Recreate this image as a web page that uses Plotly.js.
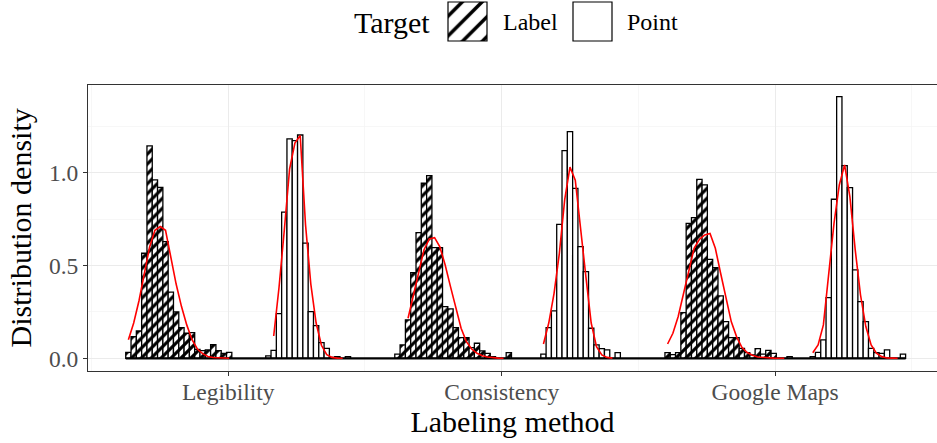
<!DOCTYPE html>
<html><head><meta charset="utf-8">
<script src="https://cdn.plot.ly/plotly-3.0.1.min.js"></script>
<style>html,body{margin:0;padding:0;background:#fff}#chart{width:937px;height:443px}</style>
</head><body><div id="chart"></div>
<script>
// ---------- data ----------
const methods = ['Legibility', 'Consistency', 'Google Maps'];
const methodPos = [1, 2, 3];
const targets = ['Label', 'Point'];
const binWidth = 0.0194;                 // histogram bin width (x units)
const labelStart = [0.625, 1.609, 2.597]; // left edge of first bin, per method
const pointStart = [1.137, 2.143, 3.128];

// histogram densities (Target = Label)
const labelLegibility = [0.032, 0.117, 0.147, 0.566, 1.144, 0.961, 0.921, 0.629, 0.357, 0.25, 0.165, 0.135, 0.138, 0.048, 0.041, 0.045, 0.074, 0.041, 0.027, 0.032];
const labelConsistency = [0.022, 0.072, 0.207, 0.462, 0.677, 0.943, 0.984, 0.596, 0.596, 0.278, 0.266, 0.165, 0.111, 0.111, 0.057, 0.081, 0.04, 0.027, 0.009, 0, 0, 0.031];
const labelGoogleMaps = [0.031, 0.02, 0.031, 0.246, 0.727, 0.758, 0.964, 0.934, 0.533, 0.489, 0.336, 0.198, 0.111, 0.111, 0.054, 0.031, 0.018, 0.052, 0.022, 0.043, 0.027, 0, 0, 0.009];
// histogram densities (Target = Point)
const pointLegibility = [0.013, 0.043, 0.241, 0.787, 1.182, 1.173, 1.203, 0.62, 0.251, 0.176, 0.084, 0.054, 0.005, 0.009, 0, 0.009];
const pointConsistency = [0.022, 0.165, 0.255, 0.722, 1.119, 1.221, 0.916, 0.602, 0.467, 0.162, 0.072, 0.052, 0.045, 0, 0.031];
const pointGoogleMaps = [0.009, 0.032, 0.099, 0.327, 0.857, 1.41, 1.038, 0.92, 0.476, 0.305, 0.198, 0.054, 0.031, 0.027, 0.045, 0, 0, 0.022];

// fitted density curves (values at bin centres), first bin index of each curve
const fitLabelFirstBin = [0, 2, 0];
const fitPointFirstBin = [1, 0, 0];
const fitLabelLegibility = [0.10, 0.19, 0.31, 0.46, 0.60, 0.69, 0.71, 0.69, 0.54, 0.40, 0.28, 0.18, 0.10, 0.05, 0.025, 0.01, 0.004, 0.002, 0.001, 0];
const fitLabelConsistency = [0.216, 0.34, 0.467, 0.584, 0.643, 0.65, 0.60, 0.503, 0.386, 0.269, 0.162, 0.09, 0.05, 0.027, 0.014, 0.007, 0.003, 0.001, 0];
const fitLabelGoogleMaps = [0.077, 0.135, 0.225, 0.35, 0.485, 0.593, 0.641, 0.665, 0.673, 0.593, 0.458, 0.323, 0.198, 0.117, 0.059, 0.031, 0.016, 0.007, 0.004, 0.002, 0.001, 0, 0];
const fitPointLegibility = [0.12, 0.38, 0.69, 1.02, 1.16, 1.20, 0.72, 0.40, 0.19, 0.07, 0.02, 0.005, 0.001, 0];
const fitPointConsistency = [0.077, 0.19, 0.35, 0.566, 0.853, 1.03, 0.96, 0.69, 0.44, 0.19, 0.063, 0.018, 0.005, 0.001];
const fitPointGoogleMaps = [0.03, 0.072, 0.18, 0.44, 0.727, 0.934, 1.042, 0.87, 0.584, 0.341, 0.171, 0.072, 0.027, 0.009, 0.002, 0.001, 0];

const yTicks = [0, 0.5, 1.0];
const yTickText = ['0.0', '0.5', '1.0'];

// ---------- build ----------
const labelHists = [labelLegibility, labelConsistency, labelGoogleMaps];
const pointHists = [pointLegibility, pointConsistency, pointGoogleMaps];
const labelFits = [fitLabelLegibility, fitLabelConsistency, fitLabelGoogleMaps];
const pointFits = [fitPointLegibility, fitPointConsistency, fitPointGoogleMaps];

function centers(start, n, first) {
  const out = [];
  for (let i = 0; i < n; i++) out.push(start + (first + i + 0.5) * binWidth);
  return out;
}
function histTrace(starts, hists, name, pattern) {
  let xs = [], ys = [];
  hists.forEach((h, g) => { xs = xs.concat(centers(starts[g], h.length, 0)); ys = ys.concat(h); });
  const marker = {color: 'white', line: {color: 'black', width: 1.3}};
  if (pattern) marker.pattern = {shape: '/', fgcolor: 'black', bgcolor: 'white', size: 7, solidity: 0.45};
  return {type: 'bar', name: name, x: xs, y: ys, width: binWidth, marker: marker, hoverinfo: 'skip'};
}

const FONT = 'Liberation Serif, Times New Roman, serif';
const traces = [];
traces.push(histTrace(labelStart, labelHists, 'Label', true));
traces.push(histTrace(pointStart, pointHists, 'Point', false));

// baseline of the (zero-height) bins spanning the whole histogram range
const xFirst = labelStart[0];
const xLast = pointStart[2] + pointGoogleMaps.length * binWidth;
traces.push({type: 'scatter', mode: 'lines', x: [xFirst, xLast], y: [0, 0], line: {color: 'black', width: 2.2}, hoverinfo: 'skip'});

function fitTrace(start, vals, first) {
  return {type: 'scatter', mode: 'lines', x: centers(start, vals.length, first), y: vals,
          line: {color: '#FF0000', width: 1.6}, hoverinfo: 'skip'};
}
for (let g = 0; g < 3; g++) {
  traces.push(fitTrace(labelStart[g], labelFits[g], fitLabelFirstBin[g]));
  traces.push(fitTrace(pointStart[g], pointFits[g], fitPointFirstBin[g]));
}

// ---------- custom legend (top strip, pixel coordinates) ----------
const keyLeft = [448, 573];
const keySize = 39;
const keyTop = 2;
traces.push({type: 'bar', xaxis: 'x2', yaxis: 'y2', x: [keyLeft[0] + keySize / 2], y: [keySize], base: [keyTop], width: [keySize],
  marker: {color: 'white', pattern: {shape: '/', fgcolor: 'black', bgcolor: 'white', size: 14, solidity: 0.25}, line: {color: 'black', width: 1.2}}, hoverinfo: 'skip'});
traces.push({type: 'bar', xaxis: 'x2', yaxis: 'y2', x: [keyLeft[1] + keySize / 2], y: [keySize], base: [keyTop], width: [keySize],
  marker: {color: 'white', line: {color: 'black', width: 1.2}}, hoverinfo: 'skip'});

const H = 443, B = 72, T = 0;
const paperH = H - B - T;
const panelTop = 84.7;
const legDom = 0.78;
const layout = {
  width: 937, height: 443,
  margin: {l: 88, r: 0, t: T, b: B, pad: 0},
  paper_bgcolor: 'white', plot_bgcolor: 'white',
  barmode: 'overlay', bargap: 0, showlegend: false,
  font: {family: FONT, color: '#000'},
  xaxis: {
    domain: [0, 1], range: [0.487, 3.592], tickmode: 'array', tickvals: methodPos, ticktext: methods,
    ticks: 'outside', ticklen: 4, tickwidth: 1, tickcolor: '#333333', ticklabelstandoff: -4,
    tickfont: {family: FONT, size: 23.5, color: '#4D4D4D'},
    showgrid: true, gridcolor: '#EBEBEB', gridwidth: 1.1,
    minor: {tickmode: 'array', tickvals: [0.5, 1.5, 2.5, 3.5], showgrid: true, gridcolor: '#F3F3F3', gridwidth: 0.7, ticks: ''},
    showline: true, linecolor: '#333333', linewidth: 1, mirror: true, zeroline: false,
    title: {text: 'Labeling method', font: {family: FONT, size: 30, color: '#000'}, standoff: 4},
    fixedrange: true
  },
  yaxis: {
    domain: [0, (paperH - panelTop) / paperH], range: [-0.0684, 1.474],
    tickmode: 'array', tickvals: yTicks, ticktext: yTickText,
    ticks: 'outside', ticklen: 4, tickwidth: 1, tickcolor: '#333333',
    tickfont: {family: FONT, size: 23.5, color: '#4D4D4D'},
    showgrid: true, gridcolor: '#EBEBEB', gridwidth: 1.1,
    minor: {tickmode: 'array', tickvals: [0.25, 0.75, 1.25], showgrid: true, gridcolor: '#F3F3F3', gridwidth: 0.7, ticks: ''},
    showline: true, linecolor: '#333333', linewidth: 1, mirror: false, zeroline: false,
    title: {text: 'Distribution density', font: {family: FONT, size: 30, color: '#000'}, standoff: 8},
    fixedrange: true
  },
  xaxis2: {domain: [0, 1], anchor: 'y2', range: [88, 937], visible: false, fixedrange: true},
  yaxis2: {domain: [legDom, 1], anchor: 'x2', range: [(1 - legDom) * paperH, 0], visible: false, fixedrange: true},
  annotations: [
    {xref: 'x2', yref: 'y2', x: 392, y: 22, text: 'Target', showarrow: false, xanchor: 'center', yanchor: 'middle', font: {family: FONT, size: 30, color: '#000'}},
    {xref: 'x2', yref: 'y2', x: 501, y: 22, text: targets[0], showarrow: false, xanchor: 'left', yanchor: 'middle', font: {family: FONT, size: 24, color: '#000'}},
    {xref: 'x2', yref: 'y2', x: 625, y: 22, text: targets[1], showarrow: false, xanchor: 'left', yanchor: 'middle', font: {family: FONT, size: 24, color: '#000'}}
  ]
};
Plotly.newPlot('chart', traces, layout, {displayModeBar: false, staticPlot: true});
</script>
</body></html>
